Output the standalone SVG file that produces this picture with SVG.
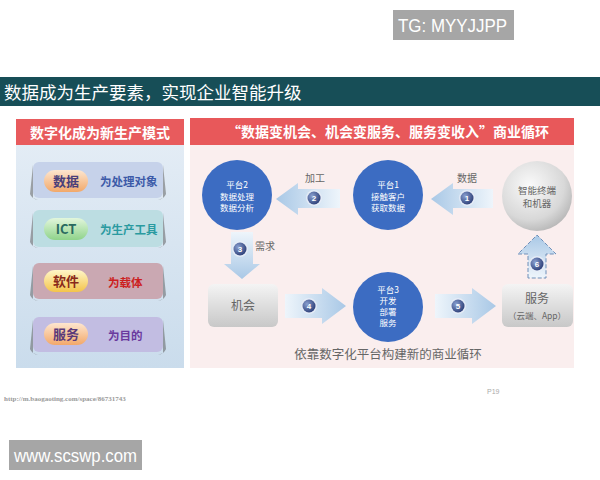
<svg xmlns="http://www.w3.org/2000/svg" width="600" height="480" viewBox="0 0 600 480">
<defs>
<style>
.cjk{font-family:"Noto Sans CJK SC","Liberation Sans",sans-serif}
.wt{fill:#fff;font-family:"Noto Sans CJK SC","Liberation Sans",sans-serif;text-anchor:middle}
.ct{fill:#fff;font-family:"Noto Sans CJK SC",sans-serif;font-size:8.5px;text-anchor:middle}
.gt{fill:#666;font-family:"Noto Sans CJK SC",sans-serif;text-anchor:middle}
.bn{fill:#fff;font-family:"Liberation Sans",sans-serif;font-size:8px;font-weight:bold;text-anchor:middle}
.lbl{font-family:"Noto Sans CJK SC",sans-serif;font-size:11.5px;font-weight:bold}
.pill{font-family:"Noto Sans CJK SC","Liberation Sans",sans-serif;font-size:13px;font-weight:bold;text-anchor:middle}
</style>
<linearGradient id="gL" x1="0" y1="0" x2="1" y2="0"><stop offset="0" stop-color="#a9c8e6"/><stop offset="1" stop-color="#eef5fb"/></linearGradient>
<linearGradient id="gR" x1="0" y1="0" x2="1" y2="0"><stop offset="0" stop-color="#eef5fb"/><stop offset="1" stop-color="#a9c8e6"/></linearGradient>
<linearGradient id="gD" x1="0" y1="0" x2="0" y2="1"><stop offset="0" stop-color="#eef5fb"/><stop offset="1" stop-color="#a9c8e6"/></linearGradient>
<linearGradient id="gU" x1="0" y1="0" x2="0" y2="1"><stop offset="0" stop-color="#a9c8e6"/><stop offset="1" stop-color="#eef5fb"/></linearGradient>
<linearGradient id="gBox" x1="0" y1="0" x2="0" y2="1"><stop offset="0" stop-color="#f4f4f4"/><stop offset="1" stop-color="#c8c8c8"/></linearGradient>
<radialGradient id="gSph" cx="0.4" cy="0.35" r="0.7"><stop offset="0" stop-color="#fafafa"/><stop offset="0.7" stop-color="#d8d8d8"/><stop offset="1" stop-color="#b5b5b5"/></radialGradient>
<radialGradient id="gBadge" cx="0.35" cy="0.35" r="0.7"><stop offset="0" stop-color="#8aa0d0"/><stop offset="1" stop-color="#2d3f78"/></radialGradient>
<linearGradient id="gPanel" x1="0" y1="0" x2="0" y2="1"><stop offset="0" stop-color="#e3ecf5"/><stop offset="1" stop-color="#cadcec"/></linearGradient>
<linearGradient id="pPeach" x1="0" y1="0" x2="0" y2="1"><stop offset="0" stop-color="#fde6cf"/><stop offset="1" stop-color="#f2a86a"/></linearGradient>
<linearGradient id="pGreen" x1="0" y1="0" x2="0" y2="1"><stop offset="0" stop-color="#e2f6dc"/><stop offset="1" stop-color="#8fd38a"/></linearGradient>
<linearGradient id="pYellow" x1="0" y1="0" x2="0" y2="1"><stop offset="0" stop-color="#fff6c8"/><stop offset="1" stop-color="#f4c44a"/></linearGradient>
<g id="badge"><circle r="8" fill="#e8eef8" opacity="0.8"/><circle r="6.5" fill="url(#gBadge)"/></g>
</defs>
<rect width="600" height="480" fill="#fff"/>

<g id="tg"><rect x="393" y="10" width="121" height="30" fill="#a6a6a6"/><text x="398" y="32" font-family="Liberation Sans,sans-serif" font-size="18" fill="#fff" textLength="109" lengthAdjust="spacingAndGlyphs">TG: MYYJJPP</text></g>

<g id="title"><rect x="0" y="77" width="600" height="29" fill="#174e57"/><text x="4" y="99" class="cjk" font-size="17.5" fill="#fff">数据成为生产要素，实现企业智能升级</text></g>

<g id="leftPanel">
<rect x="16" y="145" width="168" height="223" fill="url(#gPanel)"/>
<rect x="16" y="119" width="168" height="26" fill="#e85b5d"/>
<text x="100" y="137.5" class="wt" font-size="14" font-weight="bold">数字化成为新生产模式</text>
</g>
<g id="item1">
<path d="M33 165 L30 194 Q32 199 38 200 L33 198Z M163 165 L166 194 Q164 199 158 200 L163 198Z" fill="#555" opacity="0.5"/>
<rect x="33" y="162" width="130" height="36" rx="6" fill="#c6d2ea"/>
<rect x="44" y="170" width="44" height="22" rx="11" fill="url(#pPeach)"/>
<text x="66" y="186" class="pill" fill="#4a3f7a">数据</text>
<text x="100" y="186" class="lbl" fill="#3c5aa8">为处理对象</text>
</g>
<g id="item2">
<path d="M33 213 L30 242 Q32 247 38 248 L33 246Z M163 213 L166 242 Q164 247 158 248 L163 246Z" fill="#555" opacity="0.5"/>
<rect x="33" y="210" width="130" height="37" rx="6" fill="#bcdde2"/>
<rect x="44" y="218" width="44" height="22" rx="11" fill="url(#pGreen)"/>
<text x="66" y="234" class="pill" fill="#2a6a60">ICT</text>
<text x="100" y="234" class="lbl" fill="#2a9aa0">为生产工具</text>
</g>
<g id="item3">
<path d="M33 266 L30 295 Q32 300 38 301 L33 299Z M163 266 L166 295 Q164 300 158 301 L163 299Z" fill="#555" opacity="0.5"/>
<rect x="33" y="263" width="130" height="36" rx="6" fill="#caa8b2"/>
<rect x="44" y="270" width="44" height="22" rx="11" fill="url(#pYellow)"/>
<text x="66" y="286" class="pill" fill="#8a2a1a">软件</text>
<text x="108" y="287" class="lbl" fill="#cc1f1f">为载体</text>
</g>
<g id="item4">
<path d="M33 320 L30 349 Q32 354 38 355 L33 353Z M163 320 L166 349 Q164 354 158 355 L163 353Z" fill="#555" opacity="0.5"/>
<rect x="33" y="317" width="130" height="35" rx="6" fill="#c2bde2"/>
<rect x="44" y="323" width="44" height="22" rx="11" fill="url(#pPeach)"/>
<text x="66" y="339" class="pill" fill="#5a3a7a">服务</text>
<text x="108" y="340" class="lbl" fill="#6a3a9e">为目的</text>
</g>

<g id="rightPanel">
<rect x="190" y="145" width="384" height="223" fill="#faeeee"/>
<rect x="190" y="118" width="384" height="27" fill="#e8585a"/>
<text x="388" y="137" class="wt" font-size="14" font-weight="bold">“数据变机会、机会变服务、服务变收入”商业循环</text>
<text x="388" y="359" class="gt" font-size="12.5">依靠数字化平台构建新的商业循环</text>
</g>

<g id="connectors">
<g id="arrow2">
<path d="M276 199 L298 183 L298 189 L340 189 L340 208 L298 208 L298 215 Z" fill="url(#gL)"/>
<text x="315" y="182" class="gt" font-size="10">加工</text>
<use href="#badge" x="314" y="198"/><text x="314" y="201" class="bn">2</text>
</g>
<g id="arrow1">
<path d="M431 199 L453 183 L453 189 L493 189 L493 208 L453 208 L453 215 Z" fill="url(#gL)"/>
<text x="467" y="182" class="gt" font-size="10">数据</text>
<use href="#badge" x="467" y="198"/><text x="467" y="201" class="bn">1</text>
</g>
<g id="arrow3">
<path d="M231 232 L253 232 L253 264 L260 264 L242 279 L224 264 L231 264 Z" fill="url(#gD)"/>
<use href="#badge" x="240" y="249"/><text x="240" y="252" class="bn">3</text>
<text x="265" y="250" class="gt" font-size="10">需求</text>
</g>
<g id="arrow4">
<path d="M285 294 L322 294 L322 288 L346 306 L322 324 L322 318 L285 318 Z" fill="url(#gR)"/>
<use href="#badge" x="309" y="306"/><text x="309" y="309" class="bn">4</text>
</g>
<g id="arrow5">
<path d="M435 294 L472 294 L472 288 L496 306 L472 324 L472 318 L435 318 Z" fill="url(#gR)"/>
<use href="#badge" x="458" y="306"/><text x="458" y="309" class="bn">5</text>
</g>
<g id="arrow6">
<path d="M528 278 L528 254 L518 254 L537 235 L556 254 L546 254 L546 278 Z" fill="url(#gU)" stroke="#6e8fb8" stroke-width="1" stroke-dasharray="4 2"/>
<use href="#badge" x="537" y="264"/><text x="537" y="267" class="bn">6</text>
</g>
</g>

<g id="platform2"><circle cx="237" cy="195" r="35" fill="#3c6cc2"/>
<text x="237" y="188" class="ct">平台2</text><text x="237" y="199.5" class="ct">数据处理</text><text x="237" y="211" class="ct">数据分析</text></g>
<g id="platform1"><circle cx="388" cy="195" r="35" fill="#3c6cc2"/>
<text x="388" y="188" class="ct">平台1</text><text x="388" y="199.5" class="ct">接触客户</text><text x="388" y="211" class="ct">获取数据</text></g>
<g id="terminal"><circle cx="537" cy="196" r="35" fill="url(#gSph)"/>
<text x="537" y="194" class="gt" font-size="9.5">智能终端</text><text x="537" y="207" class="gt" font-size="9.5">和机器</text></g>
<g id="platform3"><circle cx="388" cy="307" r="35" fill="#3c6cc2"/>
<text x="388" y="293" class="ct">平台3</text><text x="388" y="304" class="ct">开发</text><text x="388" y="315" class="ct">部署</text><text x="388" y="326" class="ct">服务</text></g>
<g id="opportunity"><rect x="208" y="284" width="70" height="43" rx="6" fill="url(#gBox)"/>
<text x="243" y="310" class="gt" font-size="12">机会</text></g>
<g id="service"><rect x="502" y="284" width="71" height="43" rx="6" fill="url(#gBox)"/>
<text x="537" y="303" class="gt" font-size="12">服务</text><text x="537" y="319" class="gt" font-size="8.5">（云端、App）</text></g>

<g id="footer">
<text x="4" y="401" font-family="Liberation Serif,serif" font-size="7" font-weight="bold" fill="#999">http://m.baogaoting.com/space/86731743</text>
<text x="487" y="394" font-family="Liberation Sans,sans-serif" font-size="7" fill="#aaa">P19</text>
<rect x="9" y="440" width="133" height="30" fill="#a6a6a6"/>
<text x="14" y="462" font-family="Liberation Sans,sans-serif" font-size="18" fill="#fff" textLength="123" lengthAdjust="spacingAndGlyphs">www.scswp.com</text>
</g>
</svg>
